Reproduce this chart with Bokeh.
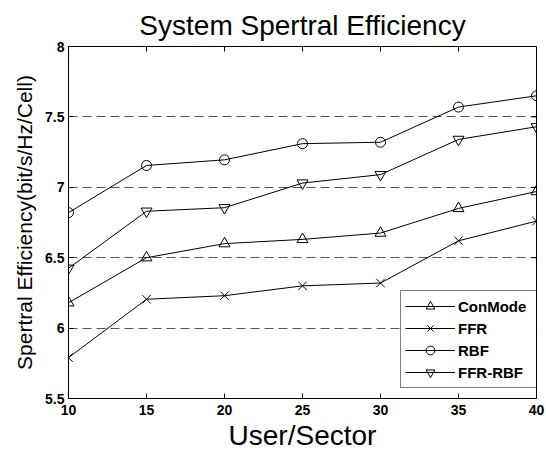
from bokeh.plotting import figure
from bokeh.models import Range1d, FixedTicker, Legend, LegendItem
from bokeh.embed import file_html
from bokeh.resources import INLINE
import math

users = [10, 15, 20, 25, 30, 35, 40]
conmode = [6.18, 6.50, 6.60, 6.63, 6.675, 6.85, 6.97]
ffr = [5.79, 6.205, 6.23, 6.30, 6.32, 6.62, 6.76]
rbf = [6.82, 7.155, 7.195, 7.31, 7.32, 7.57, 7.65]
ffr_rbf = [6.425, 6.83, 6.855, 7.03, 7.09, 7.34, 7.43]

series_names = ["ConMode", "FFR", "RBF", "FFR-RBF"]
series_values = [conmode, ffr, rbf, ffr_rbf]
series_markers = ["triangle", "x", "circle", "inverted_triangle"]
marker_sizes = [11, 12, 10, 11]

x_ticks = [10, 15, 20, 25, 30, 35, 40]
y_ticks = [5.5, 6, 6.5, 7, 7.5, 8]
y_tick_labels = ["5.5", "6", "6.5", "7", "7.5", "8"]
grid_levels = [6, 6.5, 7, 7.5]

title_text = "System Spertral Efficiency"
x_label = "User/Sector"
y_label = "Spertral Efficiency(bit/s/Hz/Cell)"

FONT = "Liberation Sans"

p = figure(width=546, height=454, output_backend="svg", toolbar_location=None,
           x_range=Range1d(x_ticks[0], x_ticks[-1]), y_range=Range1d(y_ticks[0], y_ticks[-1]),
           min_border_left=68, min_border_right=10, min_border_top=46, min_border_bottom=56)
p.outline_line_color = "black"
p.outline_line_width = 1
p.background_fill_color = "white"
p.border_fill_color = "white"

# title
p.title.text = title_text
p.title.align = "center"
p.title.offset = -6
p.title.text_font = FONT
p.title.text_font_size = "28px"
p.title.text_font_style = "normal"
p.title.text_color = "black"
p.title.standoff = 11

# axes
p.xaxis.ticker = FixedTicker(ticks=x_ticks)
p.yaxis.ticker = FixedTicker(ticks=y_ticks)
p.yaxis.major_label_overrides = {t: s for t, s in zip(y_ticks, y_tick_labels)}
for ax in (p.xaxis[0], p.yaxis[0]):
    ax.major_tick_in = 5
    ax.major_tick_out = 0
    ax.minor_tick_line_color = None
    ax.axis_line_color = "black"
    ax.major_tick_line_color = "black"
    ax.major_label_text_font = FONT
    ax.major_label_text_font_style = "bold"
    ax.major_label_text_font_size = "14px"
    ax.major_label_text_color = "black"
    ax.axis_label_text_font = FONT
    ax.axis_label_text_font_style = "normal"
    ax.axis_label_text_color = "black"
p.xaxis.major_label_standoff = 6
p.yaxis.major_label_standoff = 4
p.xaxis.axis_label = x_label
p.xaxis.axis_label_text_font_size = "28px"
p.xaxis.axis_label_standoff = 2
p.yaxis.axis_label = y_label
p.yaxis.axis_label_text_font_size = "21px"
p.yaxis.axis_label_standoff = 6

# inward ticks on the top and right edges of the box
p.ray(x=x_ticks, y=[y_ticks[-1]] * len(x_ticks), length=5, length_units="screen",
      angle=-math.pi / 2, line_color="black", line_width=1)
p.ray(x=[x_ticks[-1]] * len(y_ticks), y=y_ticks, length=5, length_units="screen",
      angle=math.pi, line_color="black", line_width=1)

# grid
p.xgrid.visible = False
p.ygrid.ticker = FixedTicker(ticks=grid_levels)
p.ygrid.grid_line_color = "#555555"
p.ygrid.grid_line_dash = "9 5"
p.ygrid.grid_line_width = 1

# series
items = []
for name, vals, mk, sz in zip(series_names, series_values, series_markers, marker_sizes):
    ln = p.line(users, vals, line_color="black", line_width=1)
    sc = p.scatter(users, vals, marker=mk, size=sz,
                   line_color="black", fill_color=None, line_width=1)
    items.append(LegendItem(label=name, renderers=[ln, sc]))

legend = Legend(items=items, location=(332, 10), padding=4, spacing=0,
                glyph_width=50, glyph_height=22, label_height=22, label_width=75,
                label_standoff=3, margin=0,
                label_text_font=FONT, label_text_font_style="bold",
                label_text_font_size="15px", label_text_color="black",
                border_line_color="black", border_line_width=1,
                background_fill_color="white", background_fill_alpha=1)
p.add_layout(legend)

open("out.html", "w").write(file_html(p, INLINE))
